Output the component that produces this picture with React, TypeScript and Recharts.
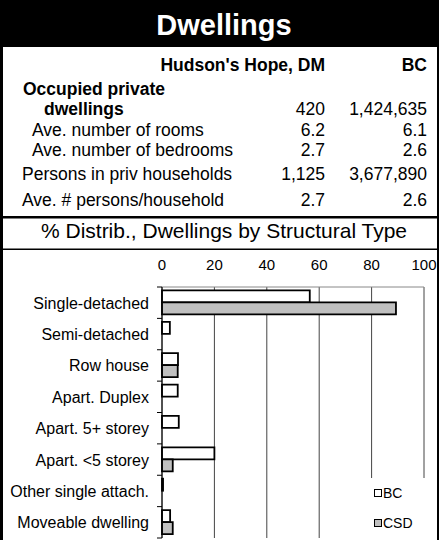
import { Bar, BarChart, CartesianGrid, Legend, XAxis, YAxis } from "recharts";

const CATEGORIES = [
  "Single-detached",
  "Semi-detached",
  "Row house",
  "Apart. Duplex",
  "Apart. 5+ storey",
  "Apart. <5 storey",
  "Other single attach.",
  "Moveable dwelling",
];
const BC_VALUES = [56.4, 3.0, 6.1, 6.0, 6.4, 20.0, 0.4, 3.1];
const CSD_VALUES = [89.3, 0, 6.0, 0, 0, 4.1, 0, 4.1];
const X_TICKS = [0, 20, 40, 60, 80, 100];

const SERIES = [
  { key: "BC", fill: "#ffffff" },
  { key: "CSD", fill: "#c0c0c0" },
];

const TABLE_ROWS = [
  { label: "Occupied private", x: 23, y: 95, bold: true, hh: "", bc: "" },
  { label: "dwellings", x: 44, y: 115, bold: true, hh: "420", bc: "1,424,635" },
  { label: "Ave. number of rooms", x: 32, y: 135.5, bold: false, hh: "6.2", bc: "6.1" },
  { label: "Ave. number of bedrooms", x: 32, y: 155.5, bold: false, hh: "2.7", bc: "2.6" },
  { label: "Persons in priv households", x: 22, y: 180, bold: false, hh: "1,125", bc: "3,677,890" },
  { label: "Ave. # persons/household", x: 22, y: 206, bold: false, hh: "2.7", bc: "2.6" },
];

const data = CATEGORIES.map((name, i) => ({ name, BC: BC_VALUES[i], CSD: CSD_VALUES[i] }));

const FONT = "'Liberation Sans', Arial, sans-serif";
const W = 439;
const CHART_TOP = 250;
const CHART_H = 290;
const X_AXIS_H = 37;
const MARGIN = { top: 0, right: 15, bottom: 2, left: 0 };
const BAND = (CHART_H - X_AXIS_H - MARGIN.bottom) / CATEGORIES.length;

function CategoryTick(props: any) {
  const { x, y, payload, index } = props;
  const half = BAND / 2;
  return (
    <g>
      <text x={x} y={y} dy={6} textAnchor="end" fontSize={16} fill="#000" fontFamily={FONT}>
        {payload.value}
      </text>
      <line x1={x + 8} x2={x + 13} y1={y - half} y2={y - half} stroke="#000" />
      {index === CATEGORIES.length - 1 && (
        <line x1={x + 8} x2={x + 13} y1={y + half} y2={y + half} stroke="#000" />
      )}
    </g>
  );
}

function ValueTick(props: any) {
  const { x, y, payload } = props;
  return (
    <text x={x} y={y} textAnchor="middle" fontSize={15} fill="#000" fontFamily={FONT}>
      {payload.value}
    </text>
  );
}

function LegendBox() {
  return (
    <div style={{ position: "relative", width: 90, height: 62, background: "#fff", fontFamily: FONT }}>
      {SERIES.map((s, i) => (
        <div
          key={s.key}
          style={{
            position: "absolute",
            left: 39,
            top: 15 + i * 30 - 9,
            height: 18,
            display: "flex",
            alignItems: "center",
            fontSize: 14,
            color: "#000",
          }}
        >
          <span
            style={{
              display: "inline-block",
              width: 6,
              height: 6,
              border: "1.5px solid #000",
              background: s.fill,
              marginRight: 1,
            }}
          />
          {s.key}
        </div>
      ))}
    </div>
  );
}

export default function App() {
  return (
    <div
      style={{
        position: "absolute",
        left: 0,
        top: 0,
        width: W,
        height: 540,
        background: "#fff",
        overflow: "hidden",
        fontFamily: FONT,
      }}
    >
      <svg width={W} height={CHART_TOP} style={{ position: "absolute", left: 0, top: 0 }}>
        <rect x={0} y={0} width={W} height={47} fill="#000" />
        <text x={224} y={35} textAnchor="middle" fontSize={29} fontWeight="bold" fill="#fff" fontFamily={FONT}>
          Dwellings
        </text>
        <text x={325} y={70.5} textAnchor="end" fontSize={17.5} fontWeight="bold" fontFamily={FONT}>
          Hudson's Hope, DM
        </text>
        <text x={427} y={70.5} textAnchor="end" fontSize={17.5} fontWeight="bold" fontFamily={FONT}>
          BC
        </text>
        {TABLE_ROWS.map((r) => (
          <g key={r.label} fontSize={17.5} fontFamily={FONT}>
            <text x={r.x} y={r.y} fontWeight={r.bold ? "bold" : "normal"}>
              {r.label}
            </text>
            <text x={325} y={r.y} textAnchor="end">
              {r.hh}
            </text>
            <text x={427} y={r.y} textAnchor="end">
              {r.bc}
            </text>
          </g>
        ))}
        <rect x={0} y={216} width={W} height={2.5} fill="#000" />
        <text x={224} y={237.5} textAnchor="middle" fontSize={21} fontFamily={FONT}>
          % Distrib., Dwellings by Structural Type
        </text>
        <rect x={0} y={248.5} width={W} height={1.5} fill="#000" />
      </svg>

      <div style={{ position: "absolute", left: 0, top: CHART_TOP }}>
        <BarChart
          width={W}
          height={CHART_H}
          data={data}
          layout="vertical"
          margin={MARGIN}
          barCategoryGap="11%"
          barGap={0}
        >
          <CartesianGrid horizontal={false} stroke="#444" />
          <XAxis
            type="number"
            orientation="top"
            domain={[0, 100]}
            ticks={X_TICKS}
            height={X_AXIS_H}
            tickLine={false}
            tickSize={6}
            tickMargin={11.5}
            axisLine={{ stroke: "#888" }}
            tick={<ValueTick />}
          />
          <YAxis
            type="category"
            dataKey="name"
            width={162}
            tickLine={false}
            tickSize={0}
            tickMargin={13}
            axisLine={{ stroke: "#000" }}
            tick={<CategoryTick />}
            interval={0}
          />
          {SERIES.map((s) => (
            <Bar
              key={s.key}
              dataKey={s.key}
              fill={s.fill}
              stroke="#000"
              strokeWidth={1.8}
              isAnimationActive={false}
            />
          ))}
          <Legend
            layout="vertical"
            align="center"
            verticalAlign="middle"
            wrapperStyle={{ left: 335, top: 228, width: 90, height: 62 }}
            content={() => <LegendBox />}
          />
        </BarChart>
      </div>

      <div style={{ position: "absolute", left: 0, top: 0, width: 3, height: 540, background: "#000" }} />
      <div style={{ position: "absolute", left: 437, top: 0, width: 2, height: 540, background: "#000" }} />
    </div>
  );
}
